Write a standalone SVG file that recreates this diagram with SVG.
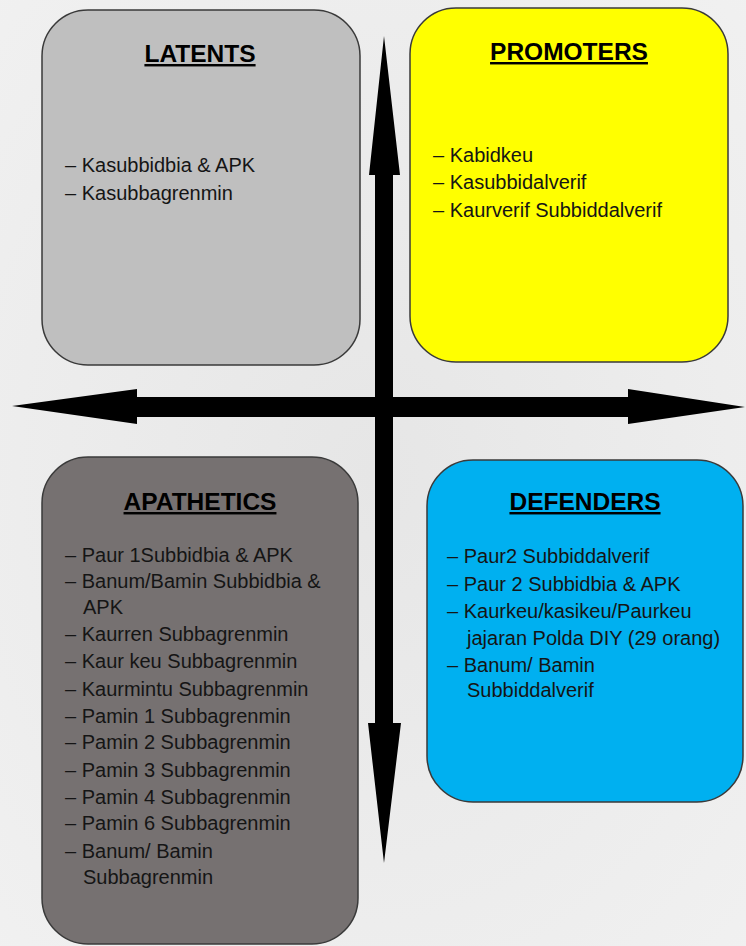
<svg xmlns="http://www.w3.org/2000/svg" width="746" height="946" viewBox="0 0 746 946">
  <defs>
    <radialGradient id="bg" cx="50%" cy="50%" r="75%">
      <stop offset="0" stop-color="#e6e6e6"/>
      <stop offset="1" stop-color="#f1f1f1"/>
    </radialGradient>
    <style>
      .box { stroke: #3a3a3a; stroke-width: 1.5; }
      .title { font-family: "Liberation Sans", Arial, sans-serif; font-size: 24.5px; font-weight: bold; fill: #000; text-anchor: middle; text-decoration: underline; }
      .item { font-family: "Liberation Sans", Arial, sans-serif; font-size: 20px; fill: #151515; }
      .arrow { fill: #000; }
    </style>
  </defs>
  <rect x="0" y="0" width="746" height="946" fill="url(#bg)"/>

  <g id="latents">
    <rect class="box" x="42" y="10" width="318" height="355" rx="46" ry="46" fill="#bfbfbf"/>
    <text class="title" x="200" y="62">LATENTS</text>
    <text class="item" x="65" y="172">– Kasubbidbia &amp; APK</text>
    <text class="item" x="65" y="200">– Kasubbagrenmin</text>
  </g>

  <g id="promoters">
    <rect class="box" x="410" y="8" width="318" height="354" rx="46" ry="46" fill="#ffff00"/>
    <text class="title" x="569" y="60">PROMOTERS</text>
    <text class="item" x="433" y="162">– Kabidkeu</text>
    <text class="item" x="433" y="189">– Kasubbidalverif</text>
    <text class="item" x="433" y="217">– Kaurverif Subbiddalverif</text>
  </g>

  <g id="apathetics">
    <rect class="box" x="42" y="457" width="316" height="487" rx="46" ry="46" fill="#767171"/>
    <text class="title" x="200" y="510">APATHETICS</text>
    <text class="item" x="65" y="562">– Paur 1Subbidbia &amp; APK</text>
    <text class="item" x="65" y="588">– Banum/Bamin Subbidbia &amp;</text>
    <text class="item" x="83" y="614">APK</text>
    <text class="item" x="65" y="641">– Kaurren Subbagrenmin</text>
    <text class="item" x="65" y="668">– Kaur keu Subbagrenmin</text>
    <text class="item" x="65" y="696">– Kaurmintu Subbagrenmin</text>
    <text class="item" x="65" y="723">– Pamin 1 Subbagrenmin</text>
    <text class="item" x="65" y="749">– Pamin 2 Subbagrenmin</text>
    <text class="item" x="65" y="777">– Pamin 3 Subbagrenmin</text>
    <text class="item" x="65" y="804">– Pamin 4 Subbagrenmin</text>
    <text class="item" x="65" y="830">– Pamin 6 Subbagrenmin</text>
    <text class="item" x="65" y="858">– Banum/ Bamin</text>
    <text class="item" x="83" y="884">Subbagrenmin</text>
  </g>

  <g id="defenders">
    <rect class="box" x="427" y="460" width="316" height="342" rx="46" ry="46" fill="#00b0f0"/>
    <text class="title" x="585" y="510">DEFENDERS</text>
    <text class="item" x="447" y="563">– Paur2 Subbiddalverif</text>
    <text class="item" x="447" y="591">– Paur 2 Subbidbia &amp; APK</text>
    <text class="item" x="447" y="618">– Kaurkeu/kasikeu/Paurkeu</text>
    <text class="item" x="467" y="645">jajaran Polda DIY (29 orang)</text>
    <text class="item" x="447" y="672">– Banum/ Bamin</text>
    <text class="item" x="467" y="697">Subbiddalverif</text>
  </g>

  <g id="connectors">
    <path class="arrow" d="M384,36 L400,175 L393,175 L393,723 L401,723 L384,863 L368,723 L375,723 L375,175 L369,175 Z"/>
    <path class="arrow" d="M12,406 L137,389 L137,397 L628,397 L628,389 L745,407 L628,424 L628,417 L137,417 L137,424 Z"/>
  </g>
</svg>
